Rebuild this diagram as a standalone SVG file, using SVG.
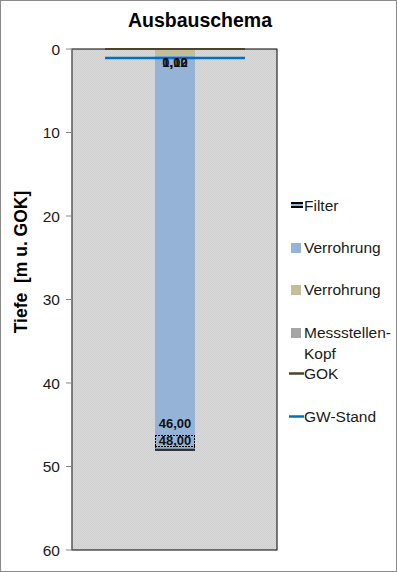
<svg xmlns="http://www.w3.org/2000/svg" width="397" height="572" viewBox="0 0 397 572">
<style>
  text { font-family: "Liberation Sans", Arial, sans-serif; fill: #000; }
  .title { font-size: 19.5px; font-weight: bold; }
  .tick { font-size: 15.5px; text-anchor: end; fill: #1a1a1a; }
  .axt { font-size: 17.5px; font-weight: bold; }
  .leg { font-size: 15.5px; fill: #1a1a1a; }
  .val { font-size: 13px; font-weight: bold; text-anchor: middle; fill: #111; }
  .tk { stroke: #868686; stroke-width: 1; }
</style>
<defs>
  <pattern id="dots" width="2" height="2" patternUnits="userSpaceOnUse">
    <rect width="2" height="2" fill="#dadada"/>
    <rect width="1" height="1" fill="#cecece"/>
    <rect x="1" y="1" width="1" height="1" fill="#d0d0d0"/>
  </pattern>
</defs>
<rect x="0.5" y="0.5" width="396" height="571" fill="#fff" stroke="#8a8a8a"/>
<text class="title" x="200" y="27" text-anchor="middle">Ausbauschema</text>

<g id="plot">
  <rect x="72" y="49" width="205" height="501" fill="url(#dots)" stroke="#000" stroke-width="1"/>
  <line x1="72" y1="49" x2="72" y2="550" class="tk"/>
</g>

<g id="axis">
  <line x1="66" y1="49" x2="72" y2="49" class="tk"/>
  <line x1="66" y1="132.5" x2="72" y2="132.5" class="tk"/>
  <line x1="66" y1="216" x2="72" y2="216" class="tk"/>
  <line x1="66" y1="299.5" x2="72" y2="299.5" class="tk"/>
  <line x1="66" y1="383" x2="72" y2="383" class="tk"/>
  <line x1="66" y1="466.5" x2="72" y2="466.5" class="tk"/>
  <line x1="66" y1="550" x2="72" y2="550" class="tk"/>
  <text class="tick" x="60" y="54.5">0</text>
  <text class="tick" x="60" y="138">10</text>
  <text class="tick" x="60" y="221.5">20</text>
  <text class="tick" x="60" y="305">30</text>
  <text class="tick" x="60" y="388.5">40</text>
  <text class="tick" x="60" y="472">50</text>
  <text class="tick" x="60" y="555.5">60</text>
  <text class="axt" transform="translate(27,262) rotate(-90)" text-anchor="middle" xml:space="preserve">Tiefe  [m u. GOK]</text>
</g>

<g id="verrohrung-blau">
  <rect x="155" y="56" width="40" height="379" fill="#95b3d7"/>
</g>
<g id="filter">
  <rect x="155" y="435" width="40" height="15" fill="#95b3d7"/>
  <line x1="155" y1="435.5" x2="195" y2="435.5" stroke="#000" stroke-width="1" stroke-dasharray="2,1"/>
  <line x1="155.5" y1="435" x2="155.5" y2="450" stroke="#000" stroke-width="1" stroke-dasharray="2,1"/>
  <line x1="194.5" y1="435" x2="194.5" y2="450" stroke="#000" stroke-width="1" stroke-dasharray="2,1"/>
  <line x1="155" y1="446.5" x2="195" y2="446.5" stroke="#000" stroke-width="1" stroke-dasharray="2,1"/>
  <line x1="155" y1="448.3" x2="195" y2="448.3" stroke="#7f8fa6" stroke-width="1.3"/>
  <line x1="155" y1="450" x2="195" y2="450" stroke="#000" stroke-width="1.5"/>
</g>
<g id="verrohrung-beige">
  <rect x="155" y="49" width="40" height="7" fill="#c4bd97"/>
</g>
<g id="gok">
  <line x1="105" y1="49" x2="245" y2="49" stroke="#4a452a" stroke-width="2"/>
</g>
<g id="gw-stand">
  <line x1="105" y1="58" x2="245" y2="58" stroke="#0070c0" stroke-width="2.5"/>
</g>
<g id="labels">
  <text class="val" x="175" y="67">0,12</text>
  <text class="val" x="175" y="67">1,00</text>
  <text class="val" x="175" y="428">46,00</text>
  <text class="val" x="175" y="444.5">48,00</text>
</g>

<g id="legend">
  <rect x="291" y="202" width="12" height="6" fill="#95b3d7"/>
  <rect x="291" y="202" width="12" height="2" fill="#000"/>
  <rect x="291" y="206" width="12" height="2" fill="#000"/>
  <text class="leg" x="304" y="211">Filter</text>
  <rect x="291" y="243" width="10" height="10" fill="#95b3d7"/>
  <text class="leg" x="304" y="253">Verrohrung</text>
  <rect x="291" y="285" width="10" height="10" fill="#c4bd97"/>
  <text class="leg" x="304" y="295">Verrohrung</text>
  <rect x="291" y="328" width="10" height="10" fill="#a6a6a6"/>
  <text class="leg" x="304" y="338">Messstellen-</text>
  <text class="leg" x="304" y="359">Kopf</text>
  <line x1="289" y1="373.5" x2="304" y2="373.5" stroke="#4a452a" stroke-width="2.5"/>
  <text class="leg" x="304" y="379">GOK</text>
  <line x1="289" y1="416.5" x2="304" y2="416.5" stroke="#0070c0" stroke-width="2.5"/>
  <text class="leg" x="304" y="422">GW-Stand</text>
</g>
</svg>
